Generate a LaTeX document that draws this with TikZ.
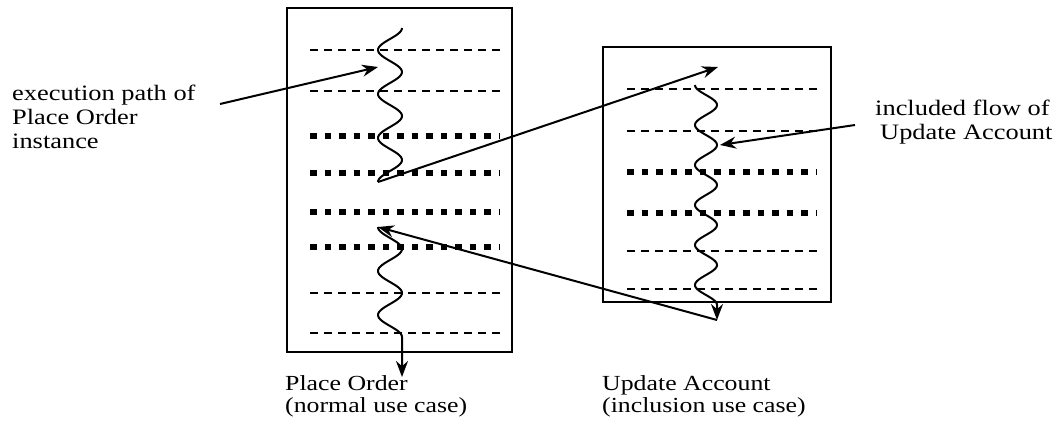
\documentclass[tikz,border=0pt]{standalone}
\usepackage{fontspec}
\setmainfont{Liberation Serif}[FakeStretch=1.2]
\usetikzlibrary{arrows.meta}
\begin{document}
\begin{tikzpicture}[x=1pt,y=-1pt,
  box/.style={draw, line width=1.5pt, inner sep=0pt},
  thindash/.style={line width=2pt, dash pattern=on 8pt off 6pt},
  thickdash/.style={line width=6pt, dash pattern=on 6.5pt off 8pt},
  arr/.style={-{Stealth[length=16pt,width=12pt]}, line width=2pt},
  wave/.style={line width=2pt},
  sidetext/.style={align=left, inner sep=0pt, anchor=base west, font=\fontsize{22}{24}\selectfont},
  bottomtext/.style={align=left, inner sep=0pt, anchor=base west, font=\fontsize{21.5}{22}\selectfont}]
\useasboundingbox (0,0) rectangle (1060,431);
% boxes
\node[box, minimum width=225pt, minimum height=344pt] (po) at (399.5,180) {};
\node[box, minimum width=228pt, minimum height=255pt] (ua) at (717,174.5) {};
% left dashes
\foreach \yy in {50,91,293,333} \draw[thindash] (310,\yy) -- (500,\yy);
\foreach \yy in {136,173,212,247} \draw[thickdash] (310,\yy) -- (500,\yy);
% right dashes
\foreach \yy in {89,131,251,289} \draw[thindash] (627,\yy) -- (817,\yy);
\foreach \yy in {172,213} \draw[thickdash] (627,\yy) -- (817,\yy);
% coordinates
\coordinate (poSplit) at (378,182);
\coordinate (poResume) at (378,227);
\coordinate (poEnd) at (402,377);
\coordinate (uaStart) at (718,67);
\coordinate (uaEnd) at (717,320);
\coordinate (lblA) at (220,104);
\coordinate (lblAtip) at (378,67);
\coordinate (lblB) at (855,125);
\coordinate (lblBtip) at (720,145);
% wavy paths
\draw[wave] plot[domain=28:182, samples=150, smooth] ({390+12*cos((\x-28)/22*180)}, \x);
\draw[wave, arr] plot[domain=227:337, samples=120, smooth] ({390-12*cos((\x-227)/22*180)}, \x) -- (poEnd);
\draw[wave, arr] plot[domain=85:305, samples=200, smooth] ({706-11*cos((\x-85)/20*180)}, \x) -- (uaEnd);
% connectors
\draw[arr] (poSplit) -- (uaStart);
\draw[arr] (uaEnd) -- (poResume);
% labels
\node[sidetext] (lblExec) at (12,148) {execution path of\\Place Order\\instance};
\node[sidetext] (lblInc1) at (875,115) {included flow of};
\node[sidetext] (lblInc2) at (880,139) {Update Account};
\node[bottomtext] (lblPO) at (285,412) {Place Order\\(normal use case)};
\node[bottomtext] (lblUA) at (602,412) {Update Account\\(inclusion use case)};
\draw[arr] (lblA) -- (lblAtip);
\draw[arr] (lblB) -- (lblBtip);
\end{tikzpicture}
\end{document}
